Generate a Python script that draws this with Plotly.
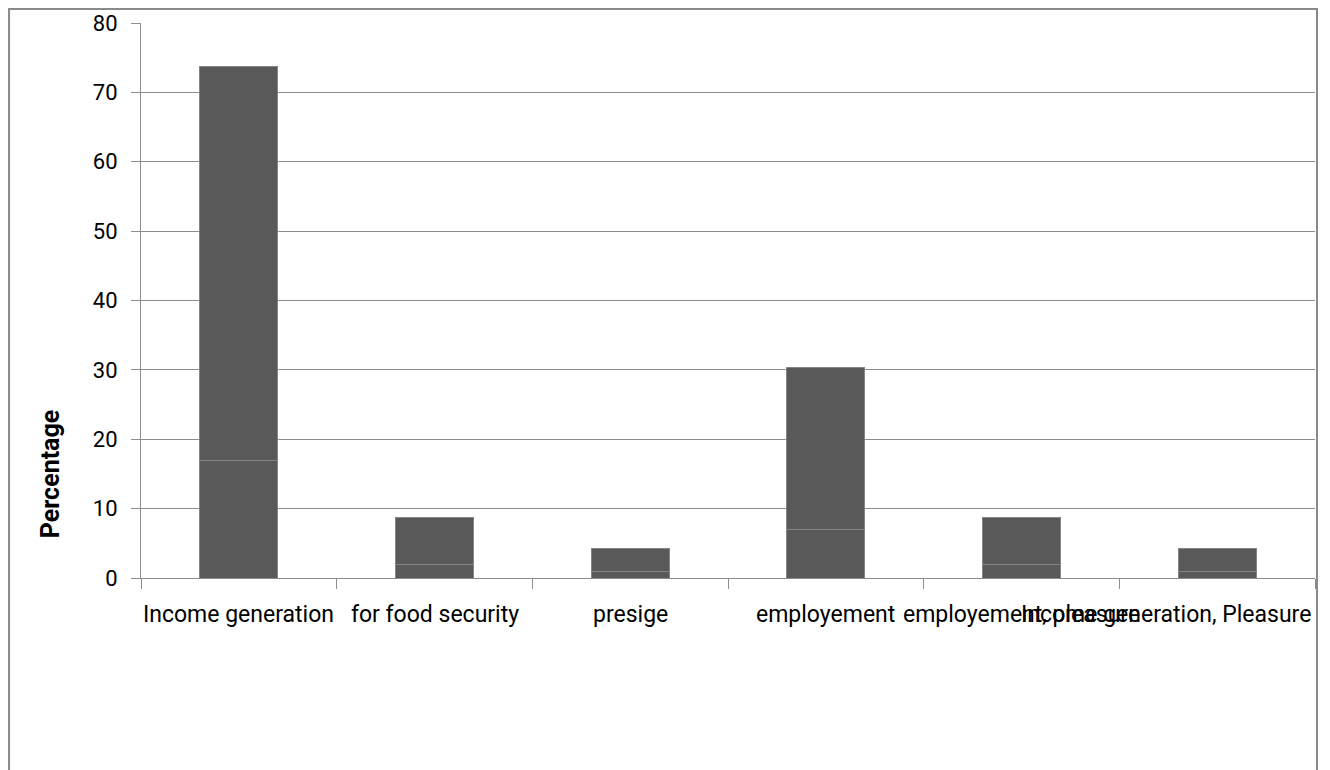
import plotly.graph_objects as go

categories = ["Income generation", "for food security", "presige", "employement",
              "employement, pleasure", "Income generation, Pleasure"]
frequency = [17, 2, 1, 7, 2, 1]
percentage = [56.7, 6.7, 3.3, 23.3, 6.7, 3.3]
y_ticks = [0, 10, 20, 30, 40, 50, 60, 70, 80]

BAR = "#595959"
EDGE = "#858585"
GRID = "#8c8c8c"
FONT = "Roboto, Arial, sans-serif"

fig = go.Figure()
fig.add_trace(go.Bar(x=categories, y=frequency, name="Frequency",
                     marker=dict(color=BAR, line=dict(color=EDGE, width=1))))
fig.add_trace(go.Bar(x=categories, y=percentage, name="Percentage",
                     marker=dict(color=BAR, line=dict(color=EDGE, width=1))))

annotations = []
for i, c in enumerate(categories):
    if i == len(categories) - 1:
        annotations.append(dict(x=0.9985, xref="paper", y=0, yref="paper", text=c,
                                showarrow=False, xanchor="right", yanchor="middle",
                                yshift=-36, font=dict(family=FONT, size=23, color="#000")))
    else:
        annotations.append(dict(x=c, xref="x", y=0, yref="paper", text=c,
                                showarrow=False, xanchor="center", yanchor="middle",
                                yshift=-36, font=dict(family=FONT, size=23, color="#000")))
annotations.append(dict(x=-0.077, xref="paper", y=0.188, yref="paper", text="<b>Percentage</b>",
                        textangle=-90, showarrow=False, xanchor="center", yanchor="middle",
                        font=dict(family=FONT, size=25, color="#000")))

fig.update_layout(
    template="none",
    width=1322, height=762,
    margin=dict(l=133, r=15, t=15, b=192, autoexpand=False),
    paper_bgcolor="white", plot_bgcolor="white",
    barmode="stack", bargap=0.6,
    showlegend=False,
    annotations=annotations,
    shapes=[dict(type="rect", xref="paper", yref="paper",
                 x0=-0.1124, x1=1.0017, y0=-0.40, y1=1.0252,
                 line=dict(color="#8a8a8a", width=2), fillcolor="rgba(0,0,0,0)",
                 layer="below")],
    xaxis=dict(type="category", showticklabels=False, showgrid=False,
               showline=True, linecolor=GRID, linewidth=1,
               ticks="outside", tickson="boundaries", ticklen=10,
               tickcolor=GRID, tickwidth=1, automargin=False),
    yaxis=dict(range=[0, 80], tickvals=y_ticks, showgrid=True, gridcolor=GRID,
               gridwidth=1, zeroline=False, showline=True, linecolor=GRID,
               linewidth=1, ticks="outside", ticklen=9, tickcolor=GRID,
               ticklabelstandoff=9, automargin=False,
               tickfont=dict(family=FONT, size=22, color="#000")),
)

fig.write_html("out.html")
